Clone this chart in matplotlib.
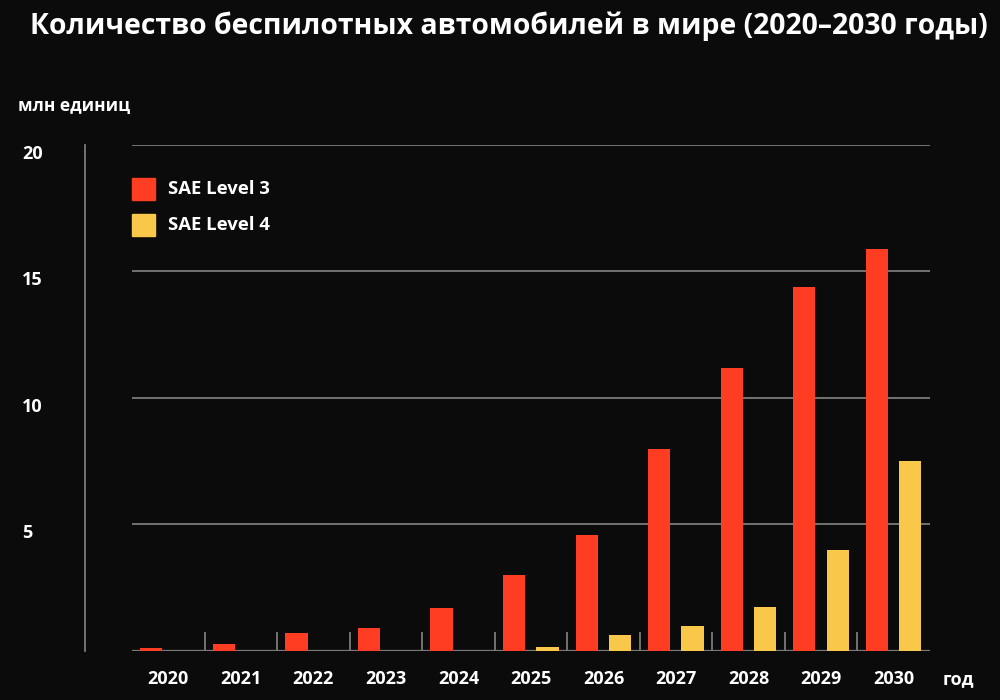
import numpy as np
import matplotlib.pyplot as plt
from matplotlib.patches import Rectangle
from matplotlib.transforms import blended_transform_factory

years = ['2020', '2021', '2022', '2023', '2024', '2025', '2026', '2027', '2028', '2029', '2030']
level3 = [0.11, 0.28, 0.72, 0.9, 1.69, 3.0, 4.6, 8.0, 11.2, 14.4, 15.9]
level4 = [0.0, 0.0, 0.0, 0.0, 0.0, 0.16, 0.63, 1.0, 1.74, 4.0, 7.5]
series_names = ['SAE Level 3', 'SAE Level 4']
yticks = [5, 10, 15, 20]

bg = '#0b0b0b'
red = '#ff3d22'
yellow = '#f9c74a'
grey = '#7a7a7a'

plt.rcParams['font.family'] = ['Open Sans', 'DejaVu Sans']
plt.rcParams['font.weight'] = 'bold'

fig = plt.figure(figsize=(10, 7), dpi=100, facecolor=bg)
ax = fig.add_axes([0.132, 0.07, 0.798, 0.7229])
ax.set_facecolor(bg)

x = np.arange(len(years))
w = 0.305
ax.bar(x - 0.233, level3, w, color=red, zorder=3)
ax.bar(x + 0.227, level4, w, color=yellow, zorder=3)

ax.set_xlim(-0.5, len(years) - 0.5)
ax.set_ylim(0, 20)

for v in yticks:
    ax.axhline(v, color=grey, lw=1.3, zorder=1)
ax.axhline(0, color=grey, lw=1.6, zorder=2)
ax.vlines(x[:-1] + 0.5, 0, 0.75, color=grey, lw=1.3, zorder=2)

for s in ['top', 'right', 'bottom']:
    ax.spines[s].set_visible(False)
ax.spines['left'].set_position(('outward', 47 * 0.72))
ax.spines['left'].set_color(grey)
ax.spines['left'].set_linewidth(1.3)

ax.set_yticks([])
ax.set_xticks(x)
ax.set_xticklabels(years, color='white', fontsize=13, fontweight='bold')
ax.tick_params(axis='x', length=0, pad=14)

tr = blended_transform_factory(fig.transFigure, ax.transData)
for v in yticks:
    ax.text(0.022, v, str(v), transform=tr, color='white', fontsize=13,
            fontweight='bold', ha='left', va='top')

fig.text(0.018, 0.841, 'млн единиц', color='white', fontsize=12.5, fontweight='bold',
         va='baseline')
fig.text(0.943, 0.022, 'год', color='white', fontsize=13, fontweight='bold')
fig.text(0.03, 0.963, 'Количество беспилотных автомобилей в мире (2020–2030 годы)',
         color='white', fontsize=20.4, fontweight='bold', va='center')

# legend drawn by hand (square swatches)
for i, (name, col) in enumerate(zip(series_names, [red, yellow])):
    top = 178 + i * 36
    fig.add_artist(Rectangle((0.132, 1 - (top + 22) / 700), 0.023, 22 / 700,
                             transform=fig.transFigure, color=col))
    fig.text(0.168, 1 - (top + 11) / 700, name, color='white', fontsize=13.3,
             fontweight='bold', va='center')

fig.savefig('out.png', dpi=100, facecolor=bg)
